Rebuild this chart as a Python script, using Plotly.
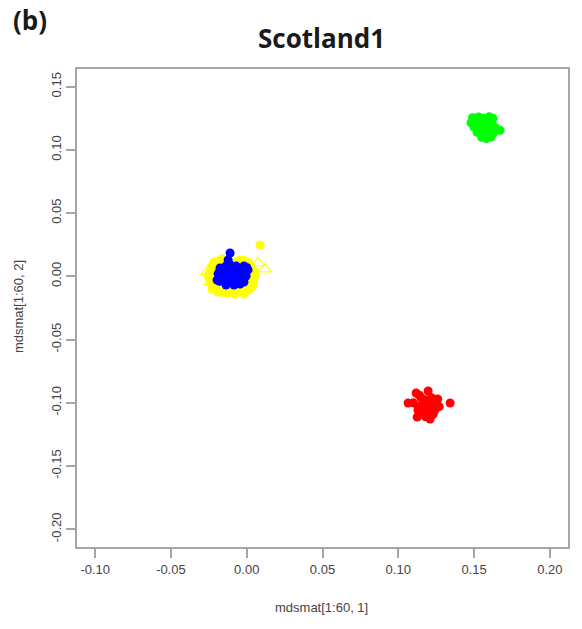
import plotly.graph_objects as go

# ---- data ----
red_x = [0.1065, 0.1342, 0.1118, 0.1197, 0.1125, 0.1210, 0.1150, 0.1180, 0.1220, 0.1240,
         0.1250, 0.1200, 0.1160, 0.1130, 0.1170, 0.1210, 0.1240, 0.1190, 0.1150, 0.1230,
         0.1100, 0.1260, 0.1140, 0.1170, 0.1210, 0.1130, 0.1270, 0.1180]
red_y = [-0.1001, -0.1001, -0.0922, -0.0906, -0.1112, -0.1128, -0.0960, -0.0975, -0.0960, -0.0990,
         -0.1020, -0.1000, -0.1010, -0.1030, -0.1050, -0.1040, -0.1060, -0.1080, -0.1070, -0.1090,
         -0.1000, -0.0970, -0.0940, -0.0990, -0.1070, -0.1060, -0.1030, -0.1110]

green_x = [0.1490, 0.1530, 0.1560, 0.1600, 0.1625, 0.1480, 0.1520, 0.1560, 0.1595, 0.1620,
           0.1500, 0.1540, 0.1575, 0.1610, 0.1650, 0.1672, 0.1520, 0.1555, 0.1590, 0.1625,
           0.1550, 0.1580, 0.1610, 0.1505, 0.1580, 0.1540, 0.1590, 0.1640, 0.1570]
green_y = [0.1255, 0.1260, 0.1250, 0.1262, 0.1250, 0.1215, 0.1225, 0.1215, 0.1220, 0.1205,
           0.1180, 0.1185, 0.1175, 0.1170, 0.1160, 0.1155, 0.1140, 0.1130, 0.1135, 0.1130,
           0.1100, 0.1090, 0.1100, 0.1245, 0.1240, 0.1200, 0.1155, 0.1175, 0.1110]

blue_x = [-0.0110, -0.0123, -0.0070, -0.0018, 0.0009, -0.0176, -0.0137, -0.0189, -0.0150, -0.0097,
          -0.0044, -0.0004, -0.0196, -0.0156, -0.0110, -0.0057, -0.0018, -0.0137, -0.0084, -0.0044,
          -0.0163, -0.0070, -0.0180, -0.0120, -0.0080, -0.0030, -0.0120, -0.0030, -0.0180, -0.0100,
          -0.0030, -0.0115, 0.0000, -0.0060]
blue_y = [0.0185, 0.0130, 0.0082, 0.0082, 0.0051, 0.0066, 0.0082, 0.0019, 0.0019, 0.0035,
          0.0035, 0.0003, -0.0029, -0.0036, -0.0021, -0.0021, -0.0044, -0.0068, -0.0068, -0.0060,
          -0.0005, 0.0003, 0.0040, 0.0055, 0.0060, 0.0060, 0.0000, -0.0010, -0.0040, -0.0050,
          -0.0030, 0.0100, 0.0070, -0.0050]

yellow_x = [-0.0216, -0.0163, -0.0044, 0.0009, -0.0236, 0.0035, -0.0242, 0.0022, -0.0229, -0.0189,
            -0.0123, -0.0057, 0.0009, 0.0042, -0.0203, -0.0110, -0.0018, -0.0255, 0.0055, -0.0077,
            0.0088, -0.0200, -0.0150, -0.0080, -0.0030, 0.0030, 0.0045, -0.0245, -0.0230, -0.0190,
            -0.0120, -0.0020, 0.0030, 0.0050]
yellow_y = [0.0114, 0.0138, 0.0130, 0.0114, 0.0051, 0.0035, -0.0029, -0.0029, -0.0092, -0.0124,
            -0.0131, -0.0124, -0.0108, -0.0068, 0.0082, -0.0108, -0.0139, 0.0003, 0.0003, 0.0114,
            0.0248, -0.0100, -0.0130, -0.0140, -0.0120, -0.0090, -0.0040, 0.0030, 0.0085, 0.0120,
            0.0125, 0.0125, 0.0080, 0.0040]

tri_x = [-0.0262, 0.0075, 0.0121, 0.0022, -0.0130, -0.0011, -0.0209, -0.0242]
tri_y = [0.0035, 0.0106, 0.0058, 0.0082, -0.0124, -0.0100, -0.0108, -0.0044]

x_ticks = [-0.10, -0.05, 0.00, 0.05, 0.10, 0.15, 0.20]
x_labels = ["-0.10", "-0.05", "0.00", "0.05", "0.10", "0.15", "0.20"]
y_ticks = [-0.20, -0.15, -0.10, -0.05, 0.00, 0.05, 0.10, 0.15]
y_labels = ["-0.20", "-0.15", "-0.10", "-0.05", "0.00", "0.05", "0.10", "0.15"]

title_text = "Scotland1"
panel_text = "(b)"
x_title = "mdsmat[1:60, 1]"
y_title = "mdsmat[1:60, 2]"

MS = 9
fig = go.Figure()
fig.add_trace(go.Scatter(x=tri_x, y=tri_y, mode="markers",
                         marker=dict(symbol="triangle-up-open", size=11, color="#FFFF00",
                                     line=dict(width=1.2, color="#FFFF00"))))
fig.add_trace(go.Scatter(x=yellow_x, y=yellow_y, mode="markers",
                         marker=dict(symbol="circle", size=MS, color="#FFFF00", line=dict(width=0))))
fig.add_trace(go.Scatter(x=blue_x, y=blue_y, mode="markers",
                         marker=dict(symbol="circle", size=MS, color="#0000FF", line=dict(width=0))))
fig.add_trace(go.Scatter(x=green_x, y=green_y, mode="markers",
                         marker=dict(symbol="circle", size=MS, color="#00FF00", line=dict(width=0))))
fig.add_trace(go.Scatter(x=red_x, y=red_y, mode="markers",
                         marker=dict(symbol="circle", size=MS, color="#FF0000", line=dict(width=0))))

axis_font = dict(family="Liberation Sans, Arial, sans-serif", size=13, color="#444444")
fig.update_layout(
    width=582, height=629,
    margin=dict(l=77, r=14, t=69, b=82),
    paper_bgcolor="white", plot_bgcolor="white",
    showlegend=False,
    xaxis=dict(range=[-0.112, 0.212], tickvals=x_ticks, ticktext=x_labels,
               showgrid=False, zeroline=False, showline=True, mirror=True,
               linecolor="#a6a6a6", linewidth=2, ticks="outside", ticklen=9,
               tickcolor="#a6a6a6", tickwidth=2, tickfont=axis_font),
    yaxis=dict(range=[-0.214, 0.164], tickvals=y_ticks, ticktext=y_labels,
               showgrid=False, zeroline=False, showline=True, mirror=True,
               linecolor="#a6a6a6", linewidth=2, ticks="outside", ticklen=9,
               tickcolor="#a6a6a6", tickwidth=2, tickfont=axis_font, tickangle=-90),
    annotations=[
        dict(text="<b>" + title_text + "</b>", xref="paper", yref="paper", x=0.497, y=1.065,
             xanchor="center", yanchor="middle", showarrow=False,
             font=dict(family="Open Sans, sans-serif", size=26, color="#1a1a1a")),
        dict(text="<b>" + panel_text + "</b>", xref="paper", yref="paper", x=-0.0957, y=1.1025,
             xanchor="center", yanchor="middle", showarrow=False,
             font=dict(family="Open Sans, sans-serif", size=26, color="#1a1a1a")),
        dict(text=x_title, xref="paper", yref="paper", x=0.497, y=-0.1276,
             xanchor="center", yanchor="middle", showarrow=False, font=axis_font),
        dict(text=y_title, xref="paper", yref="paper", x=-0.120, y=0.502, textangle=-90,
             xanchor="center", yanchor="middle", showarrow=False, font=axis_font),
    ],
)

fig.write_html("out.html")
